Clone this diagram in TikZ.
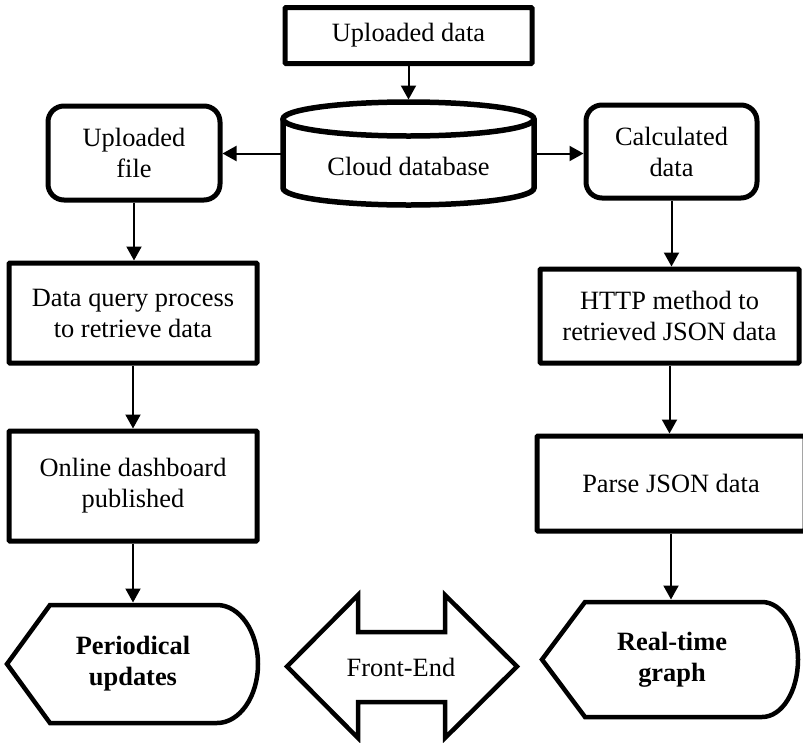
\documentclass[tikz,border=0pt]{standalone}
\usepackage{fontspec}
\setmainfont{Liberation Serif}
\usetikzlibrary{arrows.meta}
\begin{document}
\begin{tikzpicture}[x=1pt,y=-1pt,
  txt/.style={font=\fontsize{26.4}{31}\selectfont, align=center, inner sep=0pt},
  box/.style={txt, draw, line width=5pt, rounded corners=1pt},
  roundbox/.style={txt, draw, line width=5pt, rounded corners=16pt},
  region/.style={txt, draw=none, outer sep=2.5pt},
  flow/.style={line width=2pt, -{Triangle[length=14pt,width=15pt]}},
  outline/.style={line width=4.5pt, line join=miter}
]
% page
\fill[white] (0,0) rectangle (803,742);
\useasboundingbox (0,0) rectangle (803,742);

% process boxes
\node[box, minimum width=247pt, minimum height=56pt] (ud) at (408.5,35.5) {Uploaded data};
\node[roundbox, minimum width=172pt, minimum height=94pt] (uf) at (134,153) {Uploaded\\file};
\node[roundbox, minimum width=171pt, minimum height=93pt] (cd) at (671.5,151.5) {Calculated\\data};
\node[box, minimum width=248pt, minimum height=100pt] (dq) at (133,313) {Data query process\\to retrieve data};
\node[box, minimum width=248pt, minimum height=110pt] (od) at (133,486) {Online dashboard\\published};
\node[box, minimum width=259pt, minimum height=94pt] (http) at (669.5,316) {HTTP method to\\retrieved JSON data};
\node[box, minimum width=268pt, minimum height=95pt] (pj) at (671,483.5) {Parse JSON data};

% cloud database cylinder
\node[region, minimum width=251pt, minimum height=103pt] (db) at (408.5,153.5) {};
\draw[line width=5.5pt] (408.5,119) ellipse [x radius=125.5, y radius=17];
\draw[line width=5.5pt] (283,119) -- (283,188)
  .. controls (283,197.4) and (339.2,205) .. (408.5,205)
  .. controls (477.8,205) and (534,197.4) .. (534,188) -- (534,119);
\node[txt] (dbt) at (408.5,166) {Cloud database};

% display shapes
\node[region, minimum width=251pt, minimum height=118pt] (pu) at (132.5,664) {};
\draw[outline] (7,664) -- (50,605) -- (217,605)
  .. controls (239.6,605) and (258,631.4) .. (258,664)
  .. controls (258,696.6) and (239.6,723) .. (217,723) -- (50,723) -- cycle;
\node[txt, font=\fontsize{26.4}{31}\selectfont\bfseries] (put) at (133,664) {Periodical\\updates};

\node[region, minimum width=256pt, minimum height=115pt] (rt) at (671,659.5) {};
\draw[outline] (542,659.5) -- (585,602) -- (762,602)
  .. controls (782,602) and (798,627.7) .. (798,659.5)
  .. controls (798,691.3) and (782,717) .. (762,717) -- (585,717) -- cycle;
\node[txt, font=\fontsize{26.4}{31}\selectfont\bfseries] (rtt) at (672,660) {Real-time\\graph};

% front-end double arrow
\draw[outline] (287,666.5) -- (358,595) -- (358,632) -- (445,632) -- (445,595)
  -- (517,666.5) -- (445,738) -- (445,702) -- (358,702) -- (358,738) -- cycle;
\node[txt] (fe) at (401,667) {Front-End};

% connectors
\draw[flow] (ud.south) -- (ud.south |- db.north);
\draw[flow] (db.west) -- (uf.east |- db.west);
\draw[flow] (db.east) -- (cd.west |- db.east);
\draw[flow] (uf.south) -- (uf.south |- dq.north);
\draw[flow] (dq.south) -- (od.north);
\draw[flow] (od.south) -- (od.south |- pu.north);
\draw[flow] (cd.south) -- (cd.south |- http.north);
\draw[flow] (http.south) -- (http.south |- pj.north);
\draw[flow] (pj.south) -- (pj.south |- rt.north);
\end{tikzpicture}
\end{document}
